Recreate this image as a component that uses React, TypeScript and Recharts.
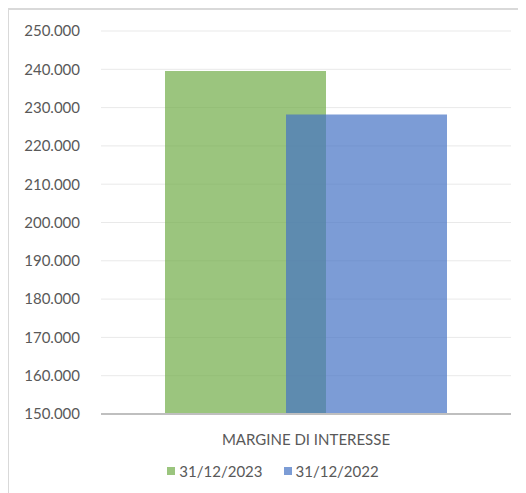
import { BarChart, Bar, XAxis, YAxis, CartesianGrid, Legend } from "recharts";

const categories = ["MARGINE DI INTERESSE"];
const values2023 = [239550];
const values2022 = [228200];
const seriesNames = ["31/12/2023", "31/12/2022"];
const yTicks = [150000, 160000, 170000, 180000, 190000, 200000, 210000, 220000, 230000, 240000, 250000];

const data = categories.map((name, i) => ({
  name,
  v2023: values2023[i],
  v2022: values2022[i],
}));

const fmtDots = (v: number) => String(v).replace(/\B(?=(\d{3})+(?!\d))/g, ".");

const textColor = "#595959";
const font = "Lato, 'Open Sans', sans-serif";
const legendColors = ["#9BC57E", "#7C9CD5"];

const renderLegend = () => (
  <div
    style={{
      display: "flex",
      justifyContent: "center",
      alignItems: "center",
      gap: 21,
      paddingLeft: 12,
      fontSize: 15,
      fontFamily: font,
      color: textColor,
    }}
  >
    {seriesNames.map((s, i) => (
      <div key={s} style={{ display: "flex", alignItems: "center", gap: 4 }}>
        <span style={{ width: 8, height: 8, background: legendColors[i], display: "inline-block" }} />
        <span>{s}</span>
      </div>
    ))}
  </div>
);

export default function App() {
  return (
    <div
      style={{
        width: 518,
        height: 485,
        borderLeft: "2px solid #D9D9D9",
        borderTop: "2px solid #D9D9D9",
        boxSizing: "border-box",
        marginLeft: -1,
        fontFamily: font,
      }}
    >
      <BarChart
        width={516}
        height={483}
        data={data}
        margin={{ top: 21, right: 14, left: 0, bottom: 0 }}
        barGap={-40}
        barSize={161}
      >
        <CartesianGrid vertical={false} stroke="#E9E9E9" strokeWidth={1} />
        <XAxis
          dataKey="name"
          height={61}
          tickLine={false}
          axisLine={{ stroke: "#BFBFBF", strokeWidth: 2 }}
          tickMargin={14}
          tick={{ fill: textColor, fontSize: 15, fontFamily: font }}
        />
        <YAxis
          width={92}
          domain={[150000, 250000]}
          ticks={yTicks}
          interval={0}
          axisLine={false}
          tickLine={false}
          tickSize={0}
          tickMargin={21}
          tickFormatter={(v: number) => fmtDots(v)}
          tick={{ fill: textColor, fontSize: 15, fontFamily: font }}
        />
        <Legend
          verticalAlign="bottom"
          content={renderLegend}
          wrapperStyle={{ left: 0, width: 516, bottom: 13 }}
        />
        <Bar dataKey="v2023" name={seriesNames[0]} fill="#70AD47" fillOpacity={0.7} isAnimationActive={false} />
        <Bar dataKey="v2022" name={seriesNames[1]} fill="#4472C4" fillOpacity={0.7} isAnimationActive={false} />
      </BarChart>
    </div>
  );
}
